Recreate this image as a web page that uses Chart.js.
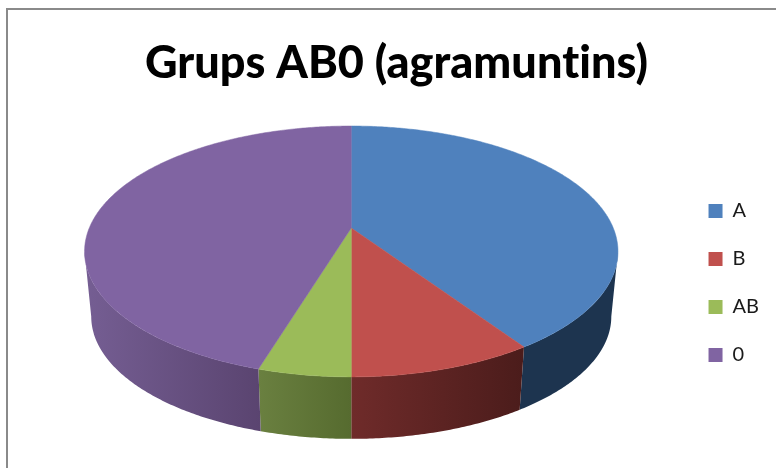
<!DOCTYPE html>
<html>
<head>
<meta charset="utf-8">
<title>Grups AB0 (agramuntins)</title>
<script src="https://cdn.jsdelivr.net/npm/chart.js@4"></script>
<style>
    html, body { margin: 0; padding: 0; background: #ffffff; overflow: hidden; }
    #frame { position: absolute; left: 6px; top: 8px; width: 770px; height: 460px;
             border-left: 2px solid #8a8a8a; border-top: 2px solid #8a8a8a; }
    #chart { position: absolute; left: 0; top: 0; }
</style>
</head>
<body>
<div id="frame"></div>
<canvas id="chart" width="776" height="468"></canvas>
<script>
const TITLE = "Grups AB0 (agramuntins)";
const categories = ["A", "B", "AB", "0"];
const values = [40.6, 9.4, 4.7, 45.3];

const topColours = ["#4f81bd", "#c0504d", "#9bbb59", "#8064a2"];
const wallLeftColours = ["#1d344f", "#6f2b2a", "#6a8040", "#755e93"];
const wallRightColours = ["#1d344f", "#4b1c1b", "#566b2f", "#5a4470"];

// Perspective of the tilted disc.
const PIE_RADIUS = 262;
const TILT = 0.462;         // vertical squash of the disc
const PERSPECTIVE = 0.187;  // how much nearer points grow
const FLOOR_SCALE = 0.975;  // bottom disc is further away
const DEPTH = 65.7;         // drop of the bottom disc

function project (arc, angle, floor) {
    const scale = floor ? FLOOR_SCALE : 1;
    const w = 1 - PERSPECTIVE * Math.sin(angle);
    return {
        x: arc.x + scale * arc.outerRadius * Math.cos(angle) / w,
        y: arc.y + (floor ? DEPTH : 0) + scale * TILT * arc.outerRadius * Math.sin(angle) / w
    };
}

function arc_points (arc, from, to, floor) {
    const steps = Math.max(2, Math.ceil(Math.abs(to - from) / 0.01));
    const points = [];
    for (let i = 0; i <= steps; i++) {
        points.push(project(arc, from + (to - from) * i / steps, floor));
    }
    return points;
}

function draw_wall (ctx, arc, index) {
    // Only the near side of the rim can be seen, between the two widest points of the disc.
    const widest = Math.asin(PERSPECTIVE);
    const from = Math.max(arc.startAngle, widest);
    const to = Math.min(arc.endAngle, Math.PI - widest);
    if (to <= from) return;

    const rim = arc_points(arc, from, to, false);
    const floor = arc_points(arc, from, to, true).reverse();
    const outline = rim.concat(floor);
    const xs = outline.map(p => p.x);

    const gradient = ctx.createLinearGradient(Math.min(...xs), 0, Math.max(...xs), 0);
    gradient.addColorStop(0, wallLeftColours[index]);
    gradient.addColorStop(1, wallRightColours[index]);

    ctx.beginPath();
    outline.forEach((p, i) => i ? ctx.lineTo(p.x, p.y) : ctx.moveTo(p.x, p.y));
    ctx.closePath();
    ctx.fillStyle = gradient;
    ctx.fill();
}

function draw_top (ctx, arc, index) {
    const rim = arc_points(arc, arc.startAngle, arc.endAngle, false);
    ctx.beginPath();
    ctx.moveTo(arc.x, arc.y);
    rim.forEach(p => ctx.lineTo(p.x, p.y));
    ctx.closePath();
    ctx.fillStyle = topColours[index];
    ctx.strokeStyle = topColours[index];
    ctx.lineWidth = 0.5;
    ctx.fill();
    ctx.stroke();
}

// Redraws the library's arcs as a tilted 3D disc, using the angles it computed.
const pie3d = {
    id: "pie3d",
    afterLayout (chart) {
        // Title and legend sit off the centre of the chart area in the original.
        chart.titleBlock.left += 1;
        chart.titleBlock.right += 1;
        chart.legend.left += 3;
        chart.legend.right += 3;
        chart.legend.top += 100;
        chart.legend.bottom += 100;
    },
    beforeDraw (chart) {
        // A tiny spacing switches off the Lato "ti" ligature.
        chart.ctx.letterSpacing = "0.05px";
    },
    beforeDatasetDraw (chart, args) {
        const ctx = chart.ctx;
        const arcs = args.meta.data;
        ctx.save();
        arcs.forEach((arc, i) => draw_wall(ctx, arc, i));
        arcs.forEach((arc, i) => draw_top(ctx, arc, i));
        ctx.restore();
        return false;
    }
};

new Chart(document.getElementById("chart"), {
    type: "pie",
    plugins: [pie3d],
    data: {
        labels: categories,
        datasets: [{
            data: values,
            backgroundColor: topColours,
            borderWidth: 0,
            radius: PIE_RADIUS
        }]
    },
    options: {
        responsive: false,
        animation: false,
        layout: {
            padding: { left: 25, right: 10, top: 0, bottom: 102 }
        },
        plugins: {
            tooltip: { enabled: false },
            title: {
                display: true,
                text: TITLE,
                color: "#000000",
                font: { family: "Lato", size: 45, weight: "900", lineHeight: 1.2 },
                padding: { top: 36, bottom: 0 }
            },
            legend: {
                position: "right",
                labels: {
                    color: "#1a1a1a",
                    boxWidth: 14,
                    boxHeight: 14,
                    padding: 28,
                    font: { family: "Lato", size: 20 }
                }
            }
        }
    }
});
</script>
</body>
</html>
